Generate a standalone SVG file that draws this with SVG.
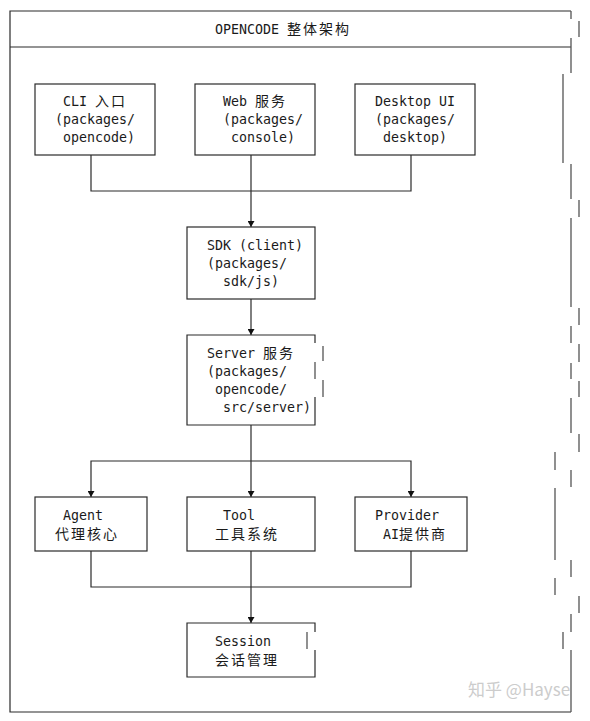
<svg xmlns="http://www.w3.org/2000/svg" width="590" height="721" viewBox="0 0 590 721">
<defs>
<style>
.t{font-family:"DejaVu Sans Mono","Liberation Mono","Noto Sans CJK SC",monospace;font-size:13.3px;fill:#1a1a1a}
.c{font-family:"Noto Sans CJK SC",sans-serif;font-size:14px;letter-spacing:2px}
.box{fill:#fff;stroke:#2a2a2a;stroke-width:1.2}
.edge{fill:none;stroke:#2a2a2a;stroke-width:1.2}
.frame{fill:none;stroke:#2a2a2a;stroke-width:1.2}
.seg{fill:none;stroke:#555;stroke-width:1.3}
.wm{font-family:"Noto Sans CJK SC","Noto Sans",sans-serif;font-size:17px;fill:#cccccc}
</style>
<marker id="arr" viewBox="0 0 6 7" refX="6" refY="3.5" markerWidth="6" markerHeight="7" markerUnits="userSpaceOnUse" orient="auto">
<path d="M0,0 L6,3.5 L0,7 z" fill="#111"/>
</marker>
</defs>
<rect width="590" height="721" fill="#fff"/>

<g id="frame">
<path class="frame" d="M571,11 H10 V712 H571 M10,47 H571"/>
<path class="seg" d="M571,11 V19 M579,21 V37 M571,38 V73 M563,74 V163 M571,164 V199 M579,200 V217 M571,218 V307 M579,308 V325 M571,326 V343 M579,344 V362 M571,363 V379 M579,381 V397 M571,398 V433 M579,434 V452 M555,452 V470 M571,470 V487 M555,488 V560 M571,560 V577 M555,578 V595 M579,596 V613 M571,614 V632 M563,632 V649 M571,650 V712"/>
<text class="t" x="215" y="34">OPENCODE <tspan class="c">整体架构</tspan></text>
</g>

<g id="connectors">
<path class="edge" d="M91,155 V191 H411 V155"/>
<path class="edge" d="M251,155 V227" marker-end="url(#arr)"/>
<path class="edge" d="M251,299 V335" marker-end="url(#arr)"/>
<path class="edge" d="M251,425 V497" marker-end="url(#arr)"/>
<path class="edge" d="M251,461 H91 V497" marker-end="url(#arr)"/>
<path class="edge" d="M251,461 H411 V497" marker-end="url(#arr)"/>
<path class="edge" d="M91,551 V587 H411 V551"/>
<path class="edge" d="M251,551 V623" marker-end="url(#arr)"/>
</g>

<g id="cli">
<rect class="box" x="35" y="84" width="120" height="71"/>
<text class="t" x="63" y="106">CLI <tspan class="c">入口</tspan></text>
<text class="t" x="55" y="124">(packages/</text>
<text class="t" x="63" y="142">opencode)</text>
</g>

<g id="web">
<rect class="box" x="195" y="84" width="120" height="71"/>
<text class="t" x="223" y="106">Web <tspan class="c">服务</tspan></text>
<text class="t" x="223" y="124">(packages/</text>
<text class="t" x="231" y="142">console)</text>
</g>

<g id="desktop">
<rect class="box" x="355" y="84" width="120" height="71"/>
<text class="t" x="375" y="106">Desktop UI</text>
<text class="t" x="375" y="124">(packages/</text>
<text class="t" x="383" y="142">desktop)</text>
</g>

<g id="sdk">
<rect class="box" x="187" y="227" width="128" height="72"/>
<text class="t" x="207" y="250">SDK (client)</text>
<text class="t" x="207" y="268">(packages/</text>
<text class="t" x="223" y="286">sdk/js)</text>
</g>

<g id="server">
<path class="box" d="M315,343 V335 H187 V425 H315 V397"/>
<path class="seg" d="M323,346 V361 M315,362 V379 M323,380 V397"/>
<text class="t" x="207" y="358">Server <tspan class="c">服务</tspan></text>
<text class="t" x="207" y="376">(packages/</text>
<text class="t" x="215" y="394">opencode/</text>
<text class="t" x="223" y="412">src/server)</text>
</g>

<g id="agent">
<rect class="box" x="35" y="497" width="112" height="54"/>
<text class="t" x="63" y="520">Agent</text>
<text class="t" x="55" y="539"><tspan class="c">代理核心</tspan></text>
</g>

<g id="tool">
<rect class="box" x="187" y="497" width="128" height="54"/>
<text class="t" x="223" y="520">Tool</text>
<text class="t" x="215" y="539"><tspan class="c">工具系统</tspan></text>
</g>

<g id="provider">
<rect class="box" x="355" y="497" width="112" height="54"/>
<text class="t" x="375" y="520">Provider</text>
<text class="t" x="383" y="539">AI<tspan class="c">提供商</tspan></text>
</g>

<g id="session">
<path class="box" d="M315,632 V623 H187 V677 H315 V650"/>
<path class="seg" d="M307,632 V649"/>
<text class="t" x="215" y="646">Session</text>
<text class="t" x="215" y="665"><tspan class="c">会话管理</tspan></text>
</g>

<text class="wm" x="468" y="696">知乎 @Hayse</text>
</svg>
